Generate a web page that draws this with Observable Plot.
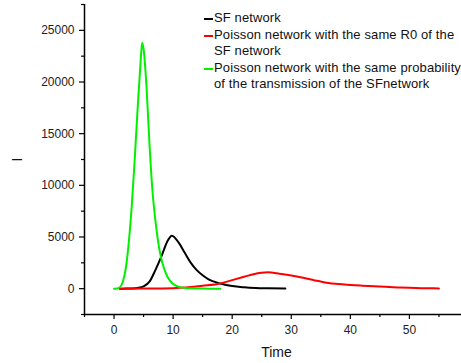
<!DOCTYPE html>
<html>
<head>
<meta charset="utf-8">
<script src="https://cdn.jsdelivr.net/npm/d3@7"></script>
<script src="https://cdn.jsdelivr.net/npm/@observablehq/plot@0.6"></script>
<style>
  html, body { margin: 0; padding: 0; background: #fff; overflow: hidden; }
  #wrap { position: relative; width: 461px; height: 363px; overflow: hidden; font-family: Arial, "Liberation Sans", sans-serif; }
  #wrap svg { max-width: none !important; display: block; }
  #legend { position: absolute; left: 204px; top: 10px; font-size: 13px; line-height: 16.5px; color: #111; letter-spacing: 0.12px; }
  .row { position: relative; padding-left: 10px; white-space: nowrap; }
  .sw { position: absolute; left: 0; top: 8px; width: 9px; height: 2px; }
</style>
</head>
<body>
<div id="wrap"></div>
<script>
// ---- data ----
const seriesNames = [
  "SF network",
  "Poisson network with the same R0 of the SF network",
  "Poisson network with the same probability of the transmission of the SFnetwork"
];
const legendLines = [
  ["SF network"],
  ["Poisson network with the same R0 of the", "SF network"],
  ["Poisson network with the same probability", "of the transmission of the SFnetwork"]
];
const seriesColors = ["#000000", "#ff0000", "#00f000"];

const tSF = [1, 2, 3, 4, 5, 6, 7, 8, 9, 9.8, 11, 12, 13, 14, 15, 16, 18, 20, 22, 24, 26, 29];
const iSF = [0, 5, 20, 70, 220, 680, 1800, 3100, 4550, 5130, 4400, 3450, 2500, 1800, 1300, 900, 500, 250, 130, 60, 30, 10];

const tR0 = [1, 5, 10, 15, 18, 20, 22, 24, 25, 26, 28, 30, 32, 34, 35, 36, 38, 40, 42, 45, 48, 50, 53, 55];
const iR0 = [0, 10, 50, 280, 500, 830, 1150, 1450, 1550, 1580, 1450, 1270, 1050, 800, 690, 580, 440, 360, 290, 200, 120, 80, 40, 20];

const tP = [0, 0.5, 1, 1.5, 2, 2.5, 3, 3.5, 4, 4.5, 4.75, 5, 5.5, 6, 6.5, 7, 7.5, 8, 8.5, 9, 9.5, 10, 11, 12, 13, 14, 15, 16, 17, 18];
const iP = [0, 20, 150, 700, 2000, 4500, 8000, 12500, 17500, 22000, 23800, 23200, 19500, 14000, 9500, 6600, 4400, 2900, 1900, 1200, 750, 450, 170, 70, 30, 12, 5, 2, 1, 0];

const xMajor = [0, 10, 20, 30, 40, 50, 60];
const xMinor = [-5, 5, 15, 25, 35, 45, 55];
const yMajor = [0, 5000, 10000, 15000, 20000, 25000];
const yMinor = [-2500, 2500, 7500, 12500, 17500, 22500, 27500];

// ---- build ----
const rows = [];
[[tSF, iSF], [tR0, iR0], [tP, iP]].forEach(([t, v], s) => {
  t.forEach((x, k) => rows.push({series: seriesNames[s], t: x, i: v[k]}));
});

const chart = Plot.plot({
  width: 468,
  height: 363,
  marginLeft: 84,
  marginRight: 0,
  marginTop: 4,
  marginBottom: 49,
  style: {fontFamily: 'Arial, "Liberation Sans", sans-serif', fontSize: "12px", color: "#222", background: "#fff"},
  x: {domain: [-5, 60]},
  y: {domain: [-2500, 27500]},
  color: {domain: seriesNames, range: seriesColors},
  marks: [
    Plot.axisX({ticks: xMajor, tickSize: 5, tickPadding: 6, tickFormat: d => d === 60 ? "" : String(d), label: null, stroke: "#000", strokeWidth: 1.2}),
    Plot.axisX({ticks: xMinor, tickSize: 3, text: null, label: null, stroke: "#000", strokeWidth: 1.2}),
    Plot.axisY({ticks: yMajor, tickSize: 5, tickPadding: 5, tickFormat: d => String(d), label: null, stroke: "#000", strokeWidth: 1.2}),
    Plot.axisY({ticks: yMinor, tickSize: 3, text: null, label: null, stroke: "#000", strokeWidth: 1.2}),
    Plot.axisX({ticks: [], label: "Time", labelAnchor: "center", labelArrow: "none", labelOffset: 42, fontSize: 14, fill: "#111"}),
    Plot.axisY({ticks: [], label: "I", labelAnchor: "center", labelArrow: "none", labelOffset: 72, fontSize: 14, fill: "#111"}),
    Plot.ruleX([-5], {stroke: "#000", strokeWidth: 1.5}),
    Plot.ruleY([-2500], {stroke: "#000", strokeWidth: 1.5}),
    Plot.line(rows, {x: "t", y: "i", z: "series", stroke: "series", strokeWidth: 2, curve: "monotone-x"})
  ]
});
chart.style.maxWidth = "none";

const wrap = document.getElementById("wrap");
wrap.appendChild(chart);

// legend
const leg = document.createElement("div");
leg.id = "legend";
legendLines.forEach((lines, s) => {
  lines.forEach((txt, j) => {
    const r = document.createElement("div");
    r.className = "row";
    r.textContent = txt;
    if (j === 0) {
      const sw = document.createElement("span");
      sw.className = "sw";
      sw.style.background = seriesColors[s];
      r.appendChild(sw);
    }
    leg.appendChild(r);
  });
});
wrap.appendChild(leg);
</script>
</body>
</html>
